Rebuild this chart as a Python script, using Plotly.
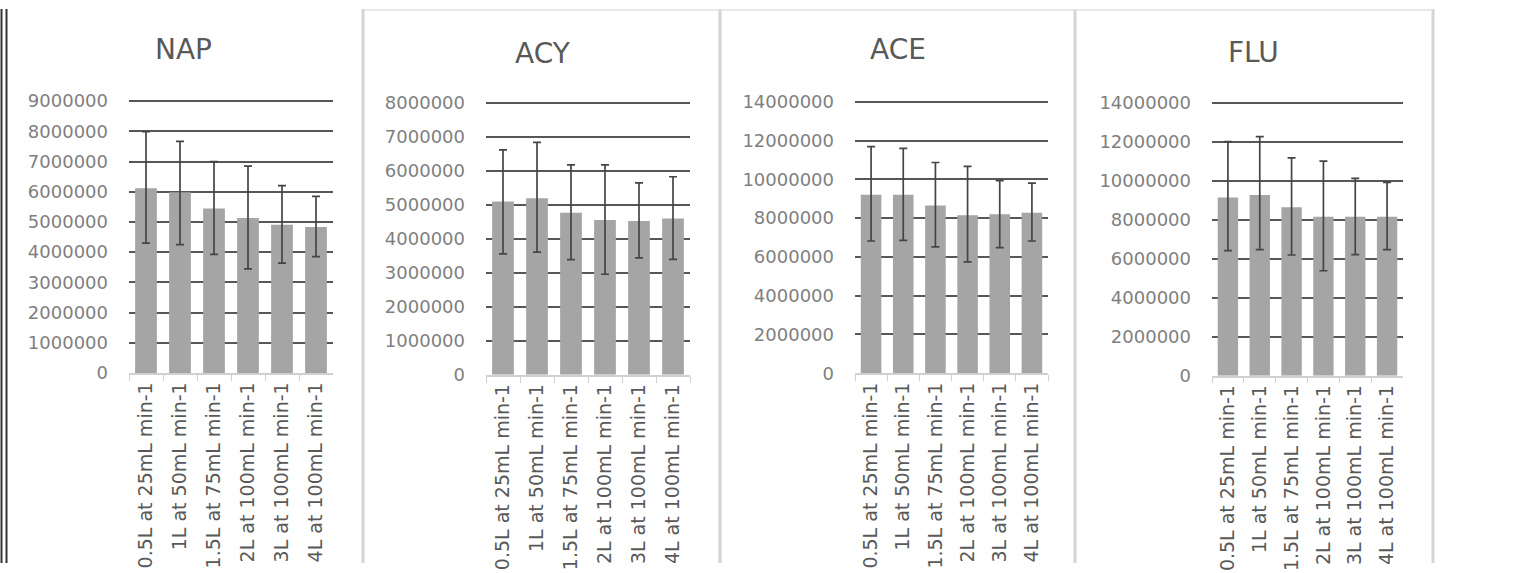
import plotly.graph_objects as go

categories = ["0.5L at 25mL min-1", "1L at 50mL min-1", "1.5L at 75mL min-1",
              "2L at 100mL min-1", "3L at 100mL min-1", "4L at 100mL min-1"]

titles = ["NAP", "ACY", "ACE", "FLU"]

nap_mean = [6120000, 5980000, 5450000, 5130000, 4910000, 4830000]
nap_err_plus = [1870000, 1690000, 1550000, 1720000, 1290000, 1020000]
nap_err_minus = [1820000, 1730000, 1520000, 1680000, 1270000, 980000]

acy_mean = [5100000, 5200000, 4770000, 4560000, 4530000, 4600000]
acy_err_plus = [1520000, 1640000, 1410000, 1620000, 1120000, 1230000]
acy_err_minus = [1540000, 1590000, 1380000, 1600000, 1090000, 1200000]

ace_mean = [9200000, 9200000, 8650000, 8150000, 8200000, 8280000]
ace_err_plus = [2490000, 2400000, 2220000, 2520000, 1730000, 1530000]
ace_err_minus = [2380000, 2350000, 2130000, 2410000, 1720000, 1460000]

flu_mean = [9150000, 9280000, 8650000, 8160000, 8160000, 8160000]
flu_err_plus = [2870000, 3000000, 2540000, 2860000, 1970000, 1770000]
flu_err_minus = [2730000, 2810000, 2450000, 2770000, 1940000, 1690000]

y_max = [9000000, 8000000, 14000000, 14000000]
y_step = [1000000, 1000000, 2000000, 2000000]

W, H = 1537, 573
# pixel layout of each panel: (x_left, x_right, y_zero, y_top)
panels = [(129, 333, 376.5, 95.3), (486, 690, 378.3, 97.3),
          (855, 1048, 376.7, 96.0), (1212, 1403, 379.3, 97.3)]
title_pos = [(183, 42), (543, 46), (898, 42), (1253, 45)]

means = [nap_mean, acy_mean, ace_mean, flu_mean]
plus = [nap_err_plus, acy_err_plus, ace_err_plus, flu_err_plus]
minus = [nap_err_minus, acy_err_minus, ace_err_minus, flu_err_minus]

fig = go.Figure()
font_family = "DejaVu Sans"
ext = 0.006  # small headroom so the top gridline is drawn

for i in range(4):
    sfx = "" if i == 0 else str(i + 1)
    fig.add_trace(go.Bar(
        x=categories, y=means[i],
        xaxis="x" + sfx, yaxis="y" + sfx,
        marker=dict(color="#a5a5a5", line=dict(width=0)),
        error_y=dict(type="data", symmetric=False, array=plus[i], arrayminus=minus[i],
                     color="#454545", thickness=1.7, width=4),
        showlegend=False,
    ))
    xl, xr, y0, yt = panels[i]
    yt_ext = yt - (y0 - yt) * ext
    fig.layout["xaxis" + sfx] = dict(
        domain=[xl / W, xr / W], anchor="y" + sfx,
        showline=True, linecolor="#d0d0d0", linewidth=1.5,
        ticks="outside", tickson="boundaries", ticklen=6, tickcolor="#d0d0d0", tickwidth=1,
        tickangle=-90, showgrid=False,
        tickfont=dict(family=font_family, size=19, color="#595959"),
        fixedrange=True,
    )
    fig.layout["yaxis" + sfx] = dict(
        domain=[(H - y0) / H, (H - yt_ext) / H], anchor="x" + sfx,
        range=[0, y_max[i] * (1 + ext)], tick0=0, dtick=y_step[i], tickformat="d",
        showgrid=True, gridcolor="#575757", gridwidth=1.9,
        zeroline=False, showline=False, ticks="",
        ticklabelstandoff=20,
        tickfont=dict(family=font_family, size=18, color="#7f7f7f"),
        fixedrange=True,
    )
    tx, ty = title_pos[i]
    fig.add_annotation(text=titles[i], x=tx / W, y=(H - ty) / H, xref="paper", yref="paper",
                       showarrow=False, xanchor="center", yanchor="middle",
                       font=dict(family=font_family, size=28, color="#595959"))

shapes = []
# panel frames
for x in [363, 720, 1075, 1433]:
    shapes.append(dict(type="line", xref="paper", yref="paper", x0=x / W, x1=x / W, y0=0, y1=1,
                       line=dict(color="#d4d4d4", width=3)))
shapes.append(dict(type="line", xref="paper", yref="paper", x0=364 / W, x1=1433 / W,
                   y0=(H - 1) / H, y1=(H - 1) / H, line=dict(color="#e0e0e0", width=1.5)))
# left double border
for x in [1.5, 6.5]:
    shapes.append(dict(type="line", xref="paper", yref="paper", x0=x / W, x1=x / W, y0=0, y1=1,
                       line=dict(color="#333333", width=2)))

fig.update_layout(
    width=W, height=H, autosize=False, margin=dict(l=0, r=0, t=0, b=0),
    paper_bgcolor="white", plot_bgcolor="white",
    bargap=0.36, shapes=shapes,
)

post = ("document.documentElement.style.margin='0px';"
        "document.body.style.margin='0px';document.body.style.padding='0px';"
        "document.body.style.overflow='hidden';")

fig.write_html("out.html",
               config={"displayModeBar": False, "responsive": False},
               post_script=post)
